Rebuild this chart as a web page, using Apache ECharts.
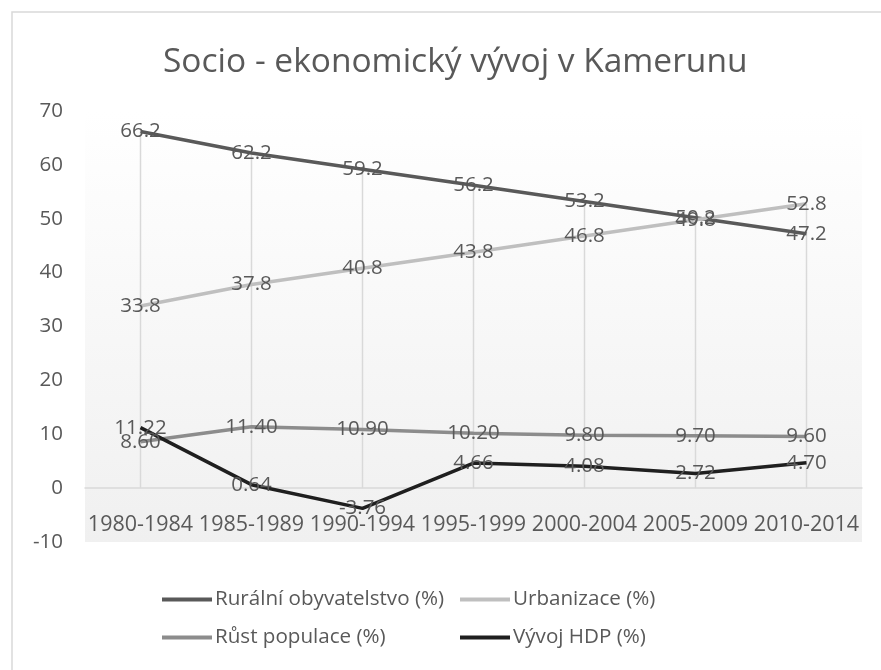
<!DOCTYPE html>
<html>
<head>
<meta charset="utf-8">
<script src="https://cdn.jsdelivr.net/npm/echarts@6/dist/echarts.min.js"></script>
<style>
  html, body { margin: 0; padding: 0; background: #fff; }
  #pic1 { width: 881px; height: 670px; }
</style>
</head>
<body>
<div id="pic1"></div>
<script>
var periods = ['1980-1984', '1985-1989', '1990-1994', '1995-1999', '2000-2004', '2005-2009', '2010-2014'];
var rural = [66.2, 62.2, 59.2, 56.2, 53.2, 50.2, 47.2];
var urban = [33.8, 37.8, 40.8, 43.8, 46.8, 49.8, 52.8];
var popGrowth = [8.60, 11.40, 10.90, 10.20, 9.80, 9.70, 9.60];
var gdp = [11.22, 0.64, -3.76, 4.66, 4.08, 2.72, 4.70];
var names = ['Rurální obyvatelstvo (%)', 'Urbanizace (%)', 'Růst populace (%)', 'Vývoj HDP (%)'];

var font = 'Open Sans';
var txt = '#595959';

// drop lines: from highest point of each category down to the axis
var dropTop = periods.map(function (p, i) {
    return Math.max(rural[i], urban[i], popGrowth[i], gdp[i]);
});

var pic1 = echarts.init(document.getElementById('pic1'));

function lineSeries(name, data, color, digits) {
    return {
        name: name,
        type: 'line',
        data: data,
        symbol: 'circle',
        symbolSize: 0.1,
        showSymbol: true,
        lineStyle: { color: color, width: 3.5 },
        itemStyle: { color: color },
        label: {
            show: true,
            position: 'inside',
            color: txt,
            fontFamily: font,
            fontSize: 20.5,
            formatter: function (p) { return p.value.toFixed(digits); }
        },
        labelLayout: { hideOverlap: false },
        z: 3
    };
}

function legendAt(name, left, top) {
    return {
        data: [name],
        left: left,
        top: top,
        icon: 'rect',
        itemWidth: 50,
        itemHeight: 4,
        itemGap: 0,
        selectedMode: false,
        textStyle: { color: txt, fontFamily: font, fontSize: 20.6, padding: [0, 0, 0, -2] }
    };
}

var option = {
    animation: false,
    backgroundColor: '#fff',
    title: {
        text: 'Socio - ekonomický vývoj v Kamerunu',
        left: 158,
        top: 40,
        textStyle: { color: txt, fontFamily: font, fontSize: 33.5, fontWeight: 'normal' }
    },
    graphic: [{
        type: 'rect',
        shape: { x: 12, y: 12, width: 880, height: 670 },
        style: { fill: 'none', stroke: '#d9d9d9', lineWidth: 1.5 },
        silent: true
    }],
    legend: [
        legendAt(names[0], 157, 584),
        legendAt(names[1], 455, 584),
        legendAt(names[2], 157, 622),
        legendAt(names[3], 455, 622)
    ],
    grid: {
        left: 85, right: 19, top: 111, bottom: 128,
        show: true,
        borderWidth: 0,
        backgroundColor: {
            type: 'linear', x: 0, y: 0, x2: 0, y2: 1,
            colorStops: [{ offset: 0, color: '#ffffff' }, { offset: 1, color: '#f0f0f0' }]
        }
    },
    xAxis: {
        type: 'category',
        data: periods,
        boundaryGap: true,
        axisLine: { onZero: true, lineStyle: { color: '#d9d9d9', width: 1.5 } },
        axisTick: { show: false },
        axisLabel: { interval: 0, color: txt, fontFamily: font, fontSize: 21.5, margin: -28 },
        splitLine: { show: false }
    },
    yAxis: {
        type: 'value',
        min: -10,
        max: 70,
        interval: 10,
        axisLine: { show: false },
        axisTick: { show: false },
        splitLine: { show: false },
        axisLabel: { color: txt, fontFamily: font, fontSize: 20.5, margin: 22 }
    },
    series: [
        {
            name: 'drop',
            type: 'bar',
            data: dropTop,
            barWidth: 1.5,
            silent: true,
            itemStyle: { color: '#d9d9d9' },
            z: 1
        },
        lineSeries(names[0], rural, '#595959', 1),
        lineSeries(names[1], urban, '#bfbfbf', 1),
        lineSeries(names[2], popGrowth, '#8c8c8c', 2),
        lineSeries(names[3], gdp, '#1f1f1f', 2)
    ]
};

pic1.setOption(option);
</script>
</body>
</html>
